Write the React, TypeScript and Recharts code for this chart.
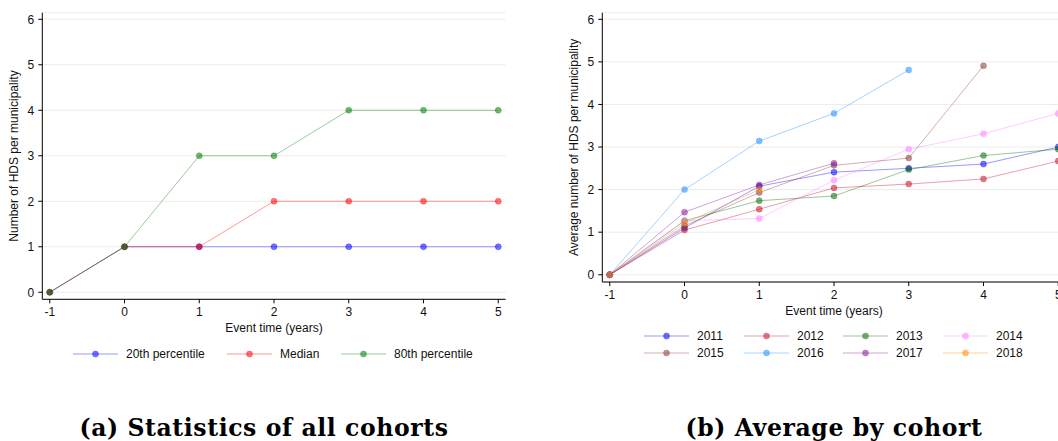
import React from 'react';
import { LineChart, Line, XAxis, YAxis, CartesianGrid, Label } from 'recharts';

// ---------- data ----------
const eventTimes = [-1, 0, 1, 2, 3, 4, 5];
const xTicks = [-1, 0, 1, 2, 3, 4, 5];
const yTicks = [0, 1, 2, 3, 4, 5, 6];

// (a) statistics of all cohorts
const p20 = [0, 1, 1, 1, 1, 1, 1];
const median = [0, 1, 1, 2, 2, 2, 2];
const p80 = [0, 1, 3, 3, 4, 4, 4];
const statsNames = ['20th percentile', 'Median', '80th percentile'];

// (b) average by cohort
const c2011 = [0, 1.1, 2.08, 2.41, 2.5, 2.6, 3.0];
const c2012 = [0, 1.05, 1.54, 2.04, 2.13, 2.25, 2.67];
const c2013 = [0, 1.27, 1.74, 1.85, 2.47, 2.8, 2.95];
const c2014 = [0, 1.27, 1.32, 2.22, 2.95, 3.31, 3.79];
const c2015 = [0, 1.15, 1.93, 2.57, 2.74, 4.91, null];
const c2016 = [0, 2.0, 3.14, 3.79, 4.81, null, null];
const c2017 = [0, 1.47, 2.11, 2.62, null, null, null];
const c2018 = [0, 1.21, 2.0, null, null, null, null];
const cohortNames = ['2011', '2012', '2013', '2014', '2015', '2016', '2017', '2018'];

// ---------- styles ----------
const FONT = '"Liberation Sans", Arial, Helvetica, sans-serif';
const statsColors = ['#0000ff', '#ff0000', '#008000'];
const cohortColors = ['#0000ff', '#c8102e', '#0b6e0b', '#ff80ff', '#8b3a3a', '#1e90ff', '#8b1a9b', '#ff8c00'];

const statsValues = [p20, median, p80];
const cohortValues = [c2011, c2012, c2013, c2014, c2015, c2016, c2017, c2018];

const statsData = eventTimes.map((t, i) => {
  const row: any = { t };
  statsValues.forEach((v, k) => (row['s' + k] = v[i]));
  return row;
});
const cohortData = eventTimes.map((t, i) => {
  const row: any = { t };
  cohortValues.forEach((v, k) => (row['c' + k] = v[i]));
  return row;
});

function Panel(props: {
  data: any[];
  keys: string[];
  colors: string[];
  yLabel: string;
  height: number;
  xAxisHeight: number;
  yDomain: [number, number];
}) {
  const { data, keys, colors, yLabel, height, xAxisHeight, yDomain } = props;
  const tickStyle = { fill: '#111', fontSize: 12, fontFamily: FONT };
  return (
    <LineChart
      width={520}
      height={height}
      data={data}
      margin={{ top: 12.7, right: 14.3, bottom: 0, left: 0 }}
    >
      <CartesianGrid vertical={false} stroke="#ececec" strokeWidth={1} />
      <XAxis
        type="number"
        dataKey="t"
        domain={[-1.1, 5.1]}
        ticks={xTicks}
        interval={0}
        allowDataOverflow
        height={xAxisHeight}
        axisLine={{ stroke: '#000', strokeWidth: 1 }}
        tickLine={{ stroke: '#000' }}
        tickSize={4}
        tickMargin={4}
        tick={tickStyle}
      >
        <Label
          value="Event time (years)"
          position="insideTop"
          offset={24}
          style={{ fontSize: 12, fill: '#111', fontFamily: FONT }}
        />
      </XAxis>
      <YAxis
        type="number"
        domain={yDomain}
        ticks={yTicks}
        interval={0}
        allowDataOverflow
        width={42.3}
        axisLine={{ stroke: '#000', strokeWidth: 1 }}
        tickLine={{ stroke: '#000' }}
        tickSize={4}
        tickMargin={4}
        tick={tickStyle}
      >
        <Label
          value={yLabel}
          position="insideLeft"
          angle={-90}
          offset={13.3}
          style={{ fontSize: 12, fill: '#111', fontFamily: FONT, textAnchor: 'middle' }}
        />
      </YAxis>
      {keys.map((k, i) => (
        <Line
          key={k}
          type="linear"
          dataKey={k}
          stroke={colors[i]}
          strokeOpacity={0.4}
          strokeWidth={1}
          isAnimationActive={false}
          connectNulls={false}
          dot={{ r: 3, fill: colors[i], fillOpacity: 0.55, stroke: colors[i], strokeOpacity: 0.5, strokeWidth: 0.6 }}
          activeDot={false}
        />
      ))}
    </LineChart>
  );
}

function LegendItem(props: { left: number; cy: number; color: string; label: string }) {
  const { left, cy, color, label } = props;
  return (
    <div
      style={{
        position: 'absolute',
        left,
        top: cy - 8,
        height: 16,
        display: 'flex',
        alignItems: 'center',
        fontFamily: FONT,
        fontSize: 12,
        color: '#111',
        whiteSpace: 'nowrap',
      }}
    >
      <svg width={45} height={16} style={{ display: 'block' }}>
        <line x1={0} y1={8} x2={45} y2={8} stroke={color} strokeOpacity={0.4} strokeWidth={1} />
        <circle cx={22.5} cy={8} r={3} fill={color} fillOpacity={0.55} stroke={color} strokeOpacity={0.5} strokeWidth={0.6} />
      </svg>
      <span style={{ marginLeft: 8, lineHeight: '16px' }}>{label}</span>
    </div>
  );
}

const statsLegendLeft = [73, 227, 341];
const cohortLegendLeft = [644, 744, 843, 943];
const cohortLegendRows = [336, 353];

export default function App() {
  const capStyle: React.CSSProperties = {
    position: 'absolute',
    top: 415,
    width: 500,
    textAlign: 'center',
    fontFamily: '"DejaVu Serif", "Liberation Serif", serif',
    fontWeight: 'bold',
    fontSize: 23.5,
    letterSpacing: 0.6,
    lineHeight: '26px',
    color: '#000',
    whiteSpace: 'nowrap',
  };
  return (
    <div
      style={{
        position: 'absolute',
        left: 0,
        top: 0,
        width: 1058,
        height: 441,
        overflow: 'hidden',
        background: '#fff',
      }}
    >
      <div style={{ position: 'absolute', left: 0, top: 0 }}>
        <Panel
          data={statsData}
          keys={['s0', 's1', 's2']}
          colors={statsColors}
          yLabel="Number of HDS per municipality"
          height={340}
          xAxisHeight={40.7}
          yDomain={[-0.155, 6.145]}
        />
      </div>
      <div style={{ position: 'absolute', left: 560, top: 0 }}>
        <Panel
          data={cohortData}
          keys={cohortValues.map((_, i) => 'c' + i)}
          colors={cohortColors}
          yLabel="Average number of HDS per municipality"
          height={320}
          xAxisHeight={38}
          yDomain={[-0.17, 6.155]}
        />
      </div>
      {statsNames.map((n, i) => (
        <LegendItem key={n} left={statsLegendLeft[i]} cy={354} color={statsColors[i]} label={n} />
      ))}
      {cohortNames.map((n, i) => (
        <LegendItem
          key={n}
          left={cohortLegendLeft[i % 4]}
          cy={cohortLegendRows[Math.floor(i / 4)]}
          color={cohortColors[i]}
          label={n}
        />
      ))}
      <div style={{ ...capStyle, left: 264 - 250 }}>(a) Statistics of all cohorts</div>
      <div style={{ ...capStyle, left: 834 - 250 }}>(b) Average by cohort</div>
    </div>
  );
}
